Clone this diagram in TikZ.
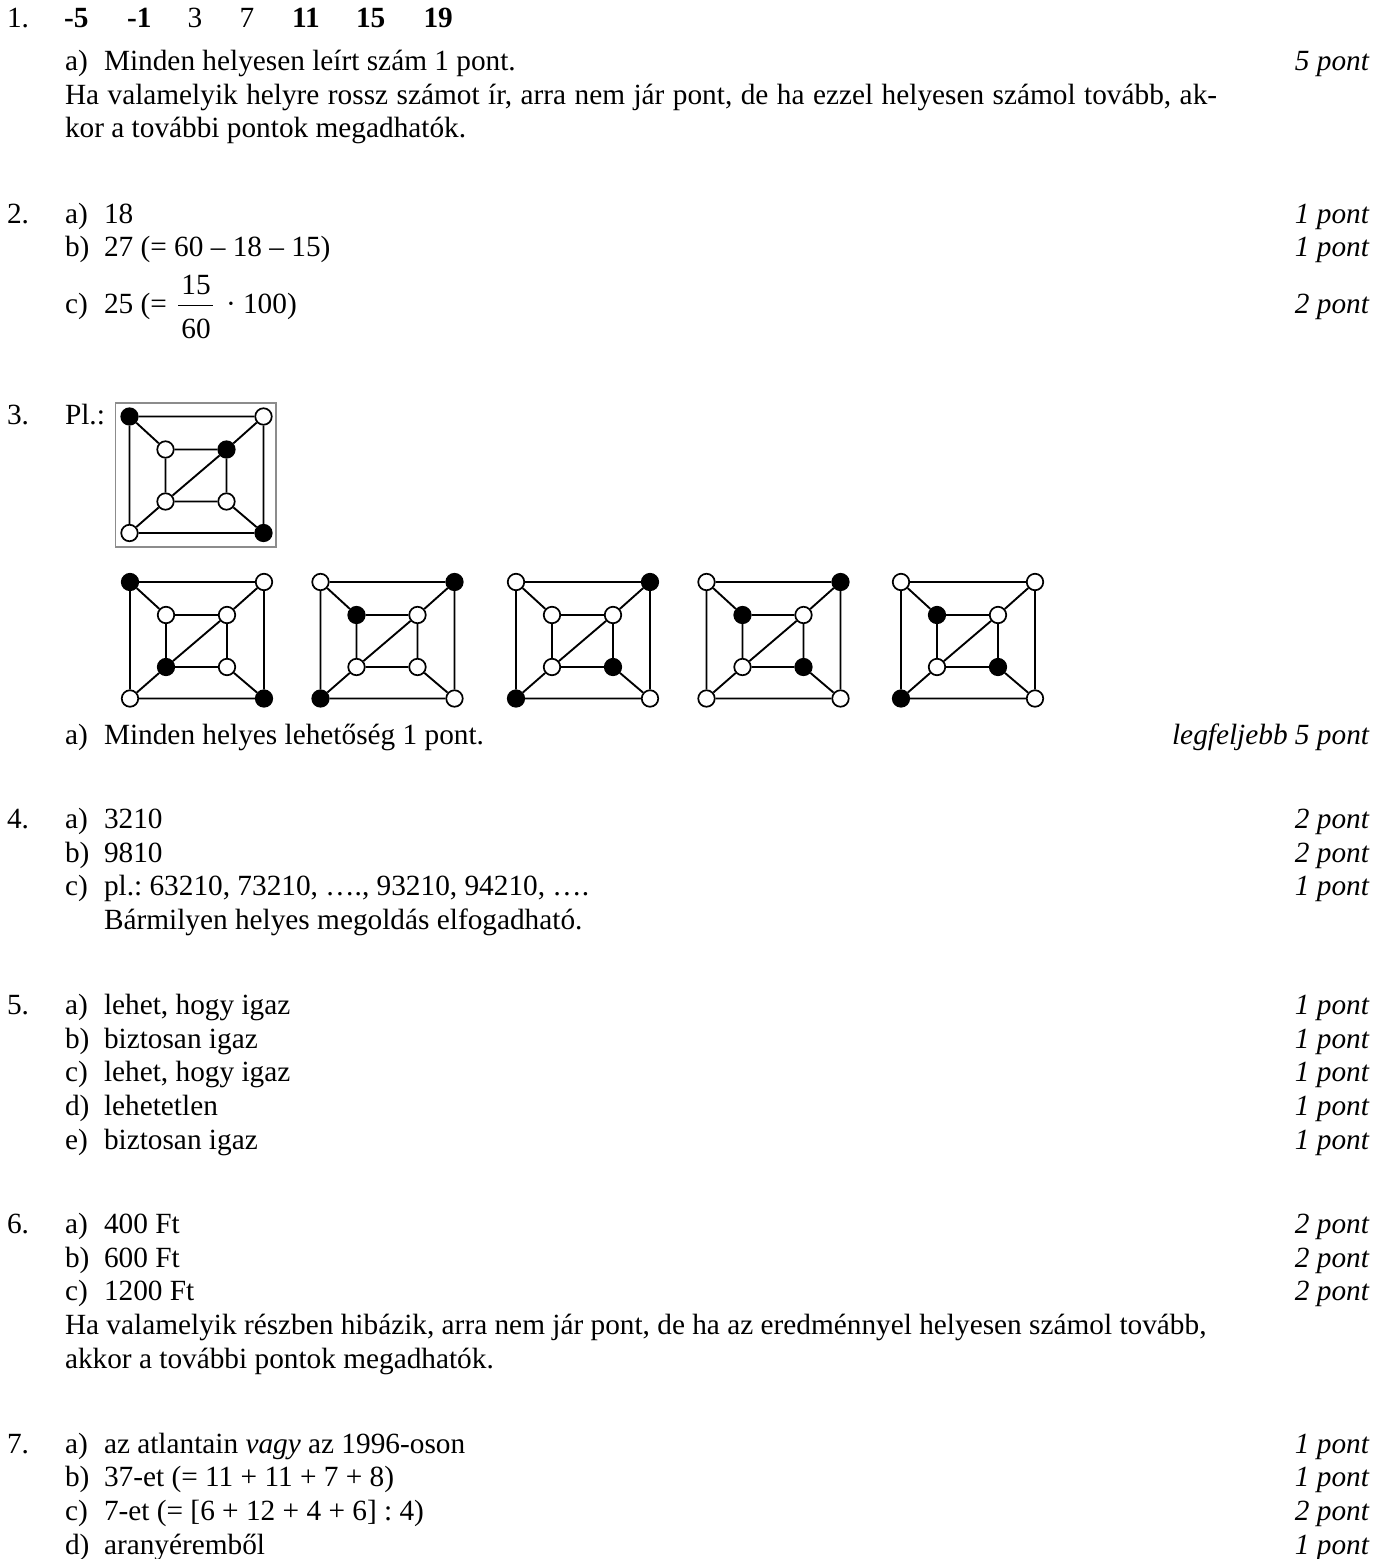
\documentclass[tikz,border=0pt]{standalone}
\usepackage{fontspec}
\setmainfont{Liberation Serif}
\frenchspacing
\newcount\txtn
\tikzset{
 x=1pt,y=-1pt,
 txt/.style={inner sep=0pt,outer sep=0pt,font=\fontsize{29.3}{34}\selectfont},
 tl/.style={txt,anchor=base west},
 tr/.style={txt,anchor=base east,font=\fontsize{29.3}{34}\selectfont\itshape},
 tc/.style={txt,anchor=base},
 wd/.style={circle,draw=black,fill=white,line width=1.7pt,minimum size=16.5pt,inner sep=0pt},
 bd/.style={wd,fill=black},
 edge/.style={draw=black,line width=1.9pt},
 framebox/.style={draw=black!45,line width=1.2pt,fill=none,inner sep=0pt,outer sep=0pt}
}
\newcommand{\tleft}[3]{\global\advance\txtn by 1 \node[tl] (t\the\txtn) at (#1,#2+0.7) {#3};}
\newcommand{\tright}[2]{\global\advance\txtn by 1 \node[tr] (t\the\txtn) at (1369,#1+0.7) {#2};}
\newcommand{\grf}[4]{%
 \coordinate (#1ca) at (#2,#3);
 \coordinate (#1cb) at (#2+134,#3);
 \coordinate (#1cc) at (#2,#3+116.5);
 \coordinate (#1cd) at (#2+134,#3+116.5);
 \coordinate (#1ce) at (#2+36,#3+33);
 \coordinate (#1cf) at (#2+97,#3+33);
 \coordinate (#1cg) at (#2+36,#3+85);
 \coordinate (#1ch) at (#2+97,#3+85);
 \foreach \n/\s in {#4} {\node[\s] (#1\n) at (#1c\n) {};}
 \draw[edge] (#1a)--(#1b) (#1b)--(#1d) (#1d)--(#1c) (#1c)--(#1a)
  (#1e)--(#1f) (#1f)--(#1h) (#1h)--(#1g) (#1g)--(#1e)
  (#1a)--(#1e) (#1b)--(#1f) (#1c)--(#1g) (#1d)--(#1h) (#1f)--(#1g);
}
\begin{document}
\begin{tikzpicture}
\useasboundingbox (0,0) rectangle (1390,1559);
\fill[white] (0,0) rectangle (1390,1559);
% 1
\tleft{7}{27}{1.}
\tleft{64}{27}{\textbf{-5}}
\tleft{127}{27}{\textbf{-1}}
\tleft{187.5}{27}{3}
\tleft{239.5}{27}{7}
\tleft{292}{27}{\textbf{11}}
\tleft{356}{27}{\textbf{15}}
\tleft{423.5}{27}{\textbf{19}}
\tleft{65}{70}{a)}
\tleft{104}{70}{Minden helyesen leírt szám 1 pont.}
\tright{70}{5 pont}
\tleft{65}{104}{\makebox[1152pt][s]{Ha valamelyik helyre rossz számot ír, arra nem jár pont, de ha ezzel helyesen számol tovább, ak-}}
\tleft{65}{137}{kor a további pontok megadhatók.}
% 2
\tleft{7}{223}{2.}
\tleft{65}{223}{a)}\tleft{104}{223}{18}\tright{223}{1 pont}
\tleft{65}{256}{b)}\tleft{104}{256}{27 (= 60 – 18 – 15)}\tright{256}{1 pont}
\tleft{65}{313}{c)}\tleft{104}{313}{25 (=}
\node[tc] (fa) at (196,294.7) {15};
\node[tc] (fb) at (196,338.7) {60};
\coordinate (fl) at (178,305.7);
\coordinate (fr) at (213,305.7);
\draw[line width=1.1pt] (fl)--(fr);
\tleft{226}{313}{· 100)}
\tright{313}{2 pont}
% 3
\tleft{7}{424}{3.}
\tleft{65}{424}{Pl.:}
\node[framebox,minimum width=160.5pt,minimum height=144pt,anchor=north west] (fr0) at (115.5,403) {};
\grf{p}{129.5}{416.5}{a/bd,b/wd,c/wd,d/bd,e/wd,f/bd,g/wd,h/wd}
\grf{q}{130}{582}{a/bd,b/wd,c/wd,d/bd,e/wd,f/wd,g/bd,h/wd}
\grf{r}{320.5}{582}{a/wd,b/bd,c/bd,d/wd,e/bd,f/wd,g/wd,h/wd}
\grf{s}{516}{582}{a/wd,b/bd,c/bd,d/wd,e/wd,f/wd,g/wd,h/bd}
\grf{u}{706.5}{582}{a/wd,b/bd,c/wd,d/wd,e/bd,f/wd,g/wd,h/bd}
\grf{v}{901}{582}{a/wd,b/wd,c/bd,d/wd,e/bd,f/wd,g/wd,h/bd}
\tleft{65}{744}{a)}\tleft{104}{744}{Minden helyes lehetőség 1 pont.}\tright{744}{legfeljebb 5 pont}
% 4
\tleft{7}{828}{4.}
\tleft{65}{828}{a)}\tleft{104}{828}{3210}\tright{828}{2 pont}
\tleft{65}{862}{b)}\tleft{104}{862}{9810}\tright{862}{2 pont}
\tleft{65}{895}{c)}\tleft{104}{895}{pl.: 63210, 73210, …., 93210, 94210, ….}\tright{895}{1 pont}
\tleft{104}{929}{Bármilyen helyes megoldás elfogadható.}
% 5
\tleft{7}{1014}{5.}
\tleft{65}{1014}{a)}\tleft{104}{1014}{lehet, hogy igaz}\tright{1014}{1 pont}
\tleft{65}{1048}{b)}\tleft{104}{1048}{biztosan igaz}\tright{1048}{1 pont}
\tleft{65}{1081}{c)}\tleft{104}{1081}{lehet, hogy igaz}\tright{1081}{1 pont}
\tleft{65}{1115}{d)}\tleft{104}{1115}{lehetetlen}\tright{1115}{1 pont}
\tleft{65}{1149}{e)}\tleft{104}{1149}{biztosan igaz}\tright{1149}{1 pont}
% 6
\tleft{7}{1233}{6.}
\tleft{65}{1233}{a)}\tleft{104}{1233}{400 Ft}\tright{1233}{2 pont}
\tleft{65}{1267}{b)}\tleft{104}{1267}{600 Ft}\tright{1267}{2 pont}
\tleft{65}{1300}{c)}\tleft{104}{1300}{1200 Ft}\tright{1300}{2 pont}
\tleft{65}{1334}{Ha valamelyik részben hibázik, arra nem jár pont, de ha az eredménnyel helyesen számol tovább,}
\tleft{65}{1368}{akkor a további pontok megadhatók.}
% 7
\tleft{7}{1453}{7.}
\tleft{65}{1453}{a)}\tleft{104}{1453}{az atlantain \textit{vagy} az 1996-oson}\tright{1453}{1 pont}
\tleft{65}{1486}{b)}\tleft{104}{1486}{37-et (= 11 + 11 + 7 + 8)}\tright{1486}{1 pont}
\tleft{65}{1520}{c)}\tleft{104}{1520}{7-et (= [6 + 12 + 4 + 6] : 4)}\tright{1520}{2 pont}
\tleft{65}{1554}{d)}\tleft{104}{1554}{aranyéremből}\tright{1554}{1 pont}
\end{tikzpicture}
\end{document}
